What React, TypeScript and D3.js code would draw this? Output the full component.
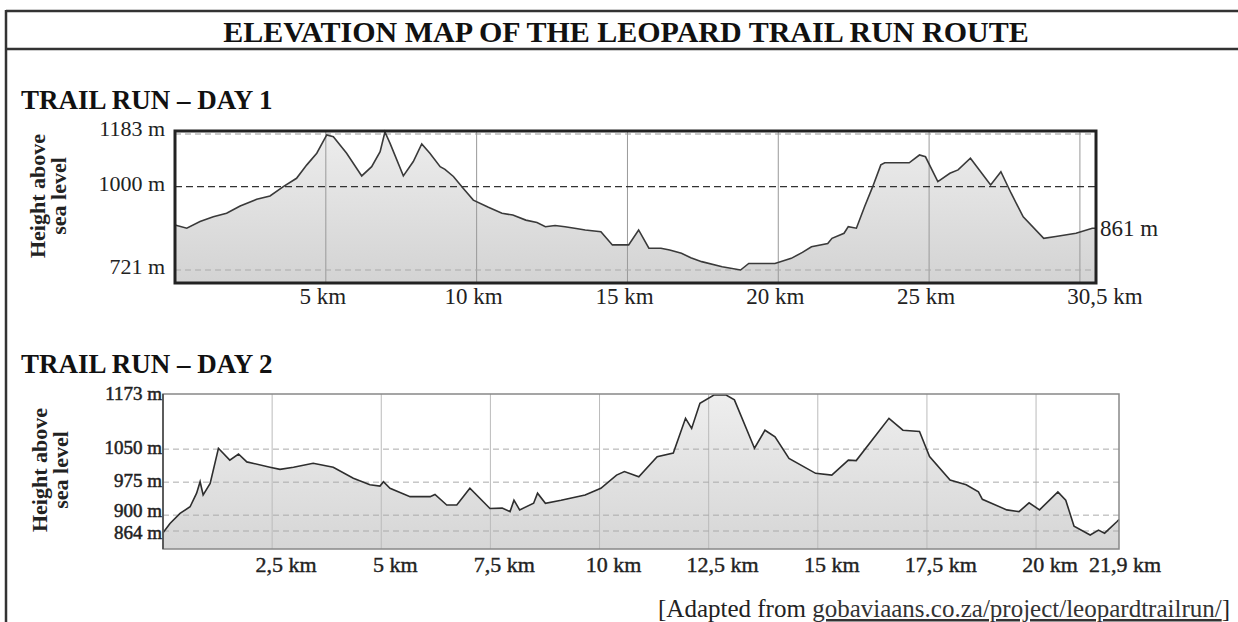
import React from "react";
import * as d3 from "d3";

// ---------- DATA ----------
const titleText = "ELEVATION MAP OF THE LEOPARD TRAIL RUN ROUTE";
const day1Title = "TRAIL RUN – DAY 1";
const day2Title = "TRAIL RUN – DAY 2";
const sourceText = "gobaviaans.co.za/project/leopardtrailrun/";

// [km, metres]
const day1Profile: [number, number][] = [
  [0, 872], [0.39, 861], [0.83, 883], [1.27, 899], [1.71, 911], [2.16, 935], [2.71, 958],
  [3.15, 969], [3.59, 1000], [4.03, 1028], [4.37, 1073], [4.7, 1112], [5.03, 1173], [5.25, 1167],
  [5.69, 1112], [6.19, 1036], [6.52, 1067], [6.8, 1117], [6.96, 1183], [7.13, 1145], [7.57, 1036],
  [7.9, 1084], [8.18, 1143], [8.45, 1112], [8.79, 1067], [8.95, 1058], [9.23, 1034], [9.56, 994],
  [9.89, 955], [10.39, 931], [10.84, 911], [11.2, 905], [11.63, 888], [12.0, 880], [12.28, 866],
  [12.6, 870], [12.93, 866], [13.3, 860], [13.6, 855], [14.12, 849], [14.5, 805], [15.04, 805],
  [15.37, 855], [15.71, 794], [16.11, 794], [16.4, 788], [16.79, 777], [17.1, 762], [17.46, 749],
  [18.14, 732], [18.75, 721], [19.02, 743], [19.89, 743], [20.43, 760], [20.8, 780], [21.1, 799],
  [21.64, 810], [21.78, 827], [22.18, 844], [22.32, 866], [22.59, 861], [22.86, 933], [23.13, 1000],
  [23.4, 1073], [23.53, 1080], [24.34, 1080], [24.68, 1106], [24.88, 1100], [25.29, 1017],
  [25.69, 1045], [25.96, 1056], [26.37, 1095], [27.04, 1006], [27.38, 1050], [27.72, 978],
  [28.12, 899], [28.8, 827], [29.2, 833], [29.87, 844], [30.41, 861], [30.5, 861],
];

const day2Profile: [number, number][] = [
  [0, 860], [0.16, 881], [0.39, 904], [0.62, 919], [0.77, 950], [0.85, 976], [0.92, 946],
  [1.08, 972], [1.27, 1052], [1.53, 1025], [1.73, 1039], [1.92, 1021], [2.45, 1009], [2.68, 1004],
  [2.99, 1009], [3.44, 1018], [3.9, 1009], [4.36, 984], [4.74, 969], [4.97, 966], [5.05, 976],
  [5.2, 961], [5.66, 942], [6.12, 942], [6.23, 947], [6.5, 923], [6.73, 923], [7.03, 961],
  [7.49, 915], [7.77, 916], [7.95, 908], [8.04, 934], [8.17, 912], [8.49, 927], [8.58, 950],
  [8.76, 927], [9.12, 934], [9.67, 946], [10.03, 961], [10.39, 991], [10.57, 999], [10.9, 987],
  [11.32, 1033], [11.69, 1041], [11.97, 1120], [12.11, 1097], [12.3, 1154], [12.62, 1173],
  [12.9, 1173], [13.09, 1162], [13.55, 1052], [13.79, 1093], [14.02, 1078], [14.34, 1029],
  [14.95, 995], [15.32, 991], [15.7, 1025], [15.88, 1024], [16.63, 1120], [16.95, 1093],
  [17.33, 1090], [17.56, 1033], [18.03, 980], [18.4, 969], [18.68, 953], [18.77, 936],
  [19.33, 912], [19.61, 908], [19.84, 928], [20.08, 912], [20.5, 953], [20.68, 934], [20.87, 875],
  [21.24, 855], [21.43, 866], [21.57, 859], [21.85, 885], [21.9, 890],
];

const day1XTicks = [5, 10, 15, 20, 25, 30.5];
const day1XLabels = ["5 km", "10 km", "15 km", "20 km", "25 km", "30,5 km"];
const day1XGrid = [5, 10, 15, 20, 25, 30];
const day1YTicks = [1183, 1000, 721];
const day1YLabels = ["1183 m", "1000 m", "721 m"];
const day1EndLabel = "861 m";
const day1EndValue = 861;

const day2XTicks = [2.5, 5, 7.5, 10, 12.5, 15, 17.5, 20, 21.9];
const day2XLabels = ["2,5 km", "5 km", "7,5 km", "10 km", "12,5 km", "15 km", "17,5 km", "20 km", "21,9 km"];
const day2XGrid = [2.5, 5, 7.5, 10, 12.5, 15, 17.5, 20];
const day2YTicks = [1173, 1050, 975, 900, 864];
const day2YLabels = ["1173 m", "1050 m", "975 m", "900 m", "864 m"];

// ---------- LAYOUT ----------
const W = 1238;
const H = 622;
const FONT = "'Liberation Serif', 'Times New Roman', serif";

const P1 = { left: 175, right: 1096, top: 131, bottom: 283 };
const P2 = { left: 163, right: 1119, top: 394, bottom: 549 };

const x1 = d3.scaleLinear().domain([0, 30.5]).range([P1.left, P1.right - 1]);
const y1 = d3.scaleLinear().domain([721, 1183]).range([270, 132]);
const x2 = d3.scaleLinear().domain([0, 21.9]).range([P2.left, P2.right]);
const y2 = d3.scaleLinear().domain([864, 1173]).range([531, 395]);

function YTitle({ x, cy }: { x: number; cy: number }) {
  return (
    <g transform={`translate(${x},${cy}) rotate(-90)`}>
      <text textAnchor="middle" fontFamily={FONT} fontWeight="bold" fontSize={22} fill="#222">
        Height above
      </text>
      <text y={21} textAnchor="middle" fontFamily={FONT} fontWeight="bold" fontSize={22} fill="#222">
        sea level
      </text>
    </g>
  );
}

export default function App() {
  const area1 = d3
    .area<[number, number]>()
    .x((d) => x1(d[0]))
    .y0(P1.bottom)
    .y1((d) => y1(d[1]));
  const line1 = d3
    .line<[number, number]>()
    .x((d) => x1(d[0]))
    .y((d) => y1(d[1]));
  const area2 = d3
    .area<[number, number]>()
    .x((d) => x2(d[0]))
    .y0(P2.bottom)
    .y1((d) => y2(d[1]));
  const line2 = d3
    .line<[number, number]>()
    .x((d) => x2(d[0]))
    .y((d) => y2(d[1]));

  // label baselines for day 2 y axis (the two lowest are crowded)
  const day2LabelY = (v: number) => (v === 900 ? y2(v) + 2 : v === 864 ? y2(v) + 8 : y2(v) + 5);

  return (
    <svg
      width={W}
      height={H}
      viewBox={`0 0 ${W} ${H}`}
      style={{ position: "absolute", left: 0, top: 0, background: "#fff" }}
    >
      <defs>
        <linearGradient id="fill1" x1="0" y1="0" x2="0" y2="1">
          <stop offset="0" stopColor="#ededed" />
          <stop offset="1" stopColor="#d3d3d3" />
        </linearGradient>
        <linearGradient id="fill2" x1="0" y1="0" x2="0" y2="1">
          <stop offset="0" stopColor="#eeeeee" />
          <stop offset="1" stopColor="#d6d6d6" />
        </linearGradient>
      </defs>
      <rect x={0} y={0} width={W} height={H} fill="#fff" />

      {/* frame */}
      <line x1={6} y1={11} x2={W} y2={11} stroke="#333" strokeWidth={2.5} />
      <line x1={6} y1={49} x2={W} y2={49} stroke="#333" strokeWidth={2.5} />
      <line x1={6} y1={10} x2={6} y2={H} stroke="#333" strokeWidth={2.5} />

      <text x={626} y={42} textAnchor="middle" fontFamily={FONT} fontWeight="bold" fontSize={30} fill="#111">
        {titleText}
      </text>

      {/* ---------- DAY 1 ---------- */}
      <text x={21} y={109} fontFamily={FONT} fontWeight="bold" fontSize={27} fill="#111">
        {day1Title}
      </text>
      <YTitle x={45} cy={196} />

      <path d={area1(day1Profile) || ""} fill="url(#fill1)" />
      {day1XGrid.map((v) => (
        <line key={v} x1={x1(v)} x2={x1(v)} y1={P1.top} y2={P1.bottom} stroke="#999" strokeWidth={1} />
      ))}
      <line x1={P1.left} x2={P1.right} y1={y1(1183) + 2} y2={y1(1183) + 2} stroke="#999" strokeDasharray="6 4" strokeWidth={1} />
      <line x1={P1.left} x2={P1.right} y1={y1(1000)} y2={y1(1000)} stroke="#333" strokeDasharray="7 4" strokeWidth={1.2} />
      <line x1={P1.left} x2={P1.right} y1={y1(721)} y2={y1(721)} stroke="#aaa" strokeDasharray="6 4" strokeWidth={1} />
      <path d={line1(day1Profile) || ""} fill="none" stroke="#3a3a3a" strokeWidth={1.6} />
      <rect
        x={P1.left}
        y={P1.top}
        width={P1.right - P1.left}
        height={P1.bottom - P1.top}
        fill="none"
        stroke="#222"
        strokeWidth={3}
      />
      {day1YTicks.map((v, i) => (
        <text key={v} x={165} y={y1(v) + 4} textAnchor="end" fontFamily={FONT} fontSize={22} fill="#222">
          {day1YLabels[i]}
        </text>
      ))}
      <text x={1100} y={y1(day1EndValue) + 8} fontFamily={FONT} fontSize={23} fill="#222">
        {day1EndLabel}
      </text>
      {day1XTicks.map((v, i) => (
        <text
          key={v}
          x={x1(v) + (i === day1XTicks.length - 1 ? 10 : -3)}
          y={304}
          textAnchor="middle"
          fontFamily={FONT}
          fontSize={23}
          fill="#222"
        >
          {day1XLabels[i]}
        </text>
      ))}

      {/* ---------- DAY 2 ---------- */}
      <text x={21} y={373} fontFamily={FONT} fontWeight="bold" fontSize={27} fill="#111">
        {day2Title}
      </text>
      <YTitle x={47} cy={470} />

      <path d={area2(day2Profile) || ""} fill="url(#fill2)" />
      {day2XGrid.map((v) => (
        <line key={v} x1={x2(v)} x2={x2(v)} y1={P2.top} y2={P2.bottom} stroke="#bbb" strokeWidth={1} />
      ))}
      {day2YTicks.slice(1).map((v) => (
        <line key={v} x1={P2.left} x2={P2.right} y1={y2(v)} y2={y2(v)} stroke="#aaa" strokeDasharray="6 4" strokeWidth={1} />
      ))}
      <path d={line2(day2Profile) || ""} fill="none" stroke="#2e2e2e" strokeWidth={1.6} />
      <rect
        x={P2.left}
        y={P2.top}
        width={P2.right - P2.left}
        height={P2.bottom - P2.top}
        fill="none"
        stroke="#888"
        strokeWidth={1.5}
      />
      <line x1={P2.left} x2={P2.left} y1={P2.top} y2={P2.bottom} stroke="#444" strokeWidth={1.5} />
      {day2YTicks.map((v, i) => (
        <text
          key={v}
          x={162}
          y={day2LabelY(v)}
          textAnchor="end"
          fontFamily={FONT}
          fontSize={19}
          fill="#222"
          stroke="#222"
          strokeWidth={0.5}
        >
          {day2YLabels[i]}
        </text>
      ))}
      {day2XTicks.map((v, i) => (
        <text
          key={v}
          x={x2(v) + (i === day2XTicks.length - 1 ? 6 : 14)}
          y={572}
          textAnchor="middle"
          fontFamily={FONT}
          fontSize={22}
          fill="#222"
          stroke="#222"
          strokeWidth={0.4}
        >
          {day2XLabels[i]}
        </text>
      ))}

      {/* source */}
      <text x={1230} y={617} textAnchor="end" fontFamily={FONT} fontSize={25} fill="#222">
        [Adapted from{" "}
        <tspan textDecoration="underline" fill="#333">
          {sourceText}
        </tspan>
        ]
      </text>
    </svg>
  );
}
